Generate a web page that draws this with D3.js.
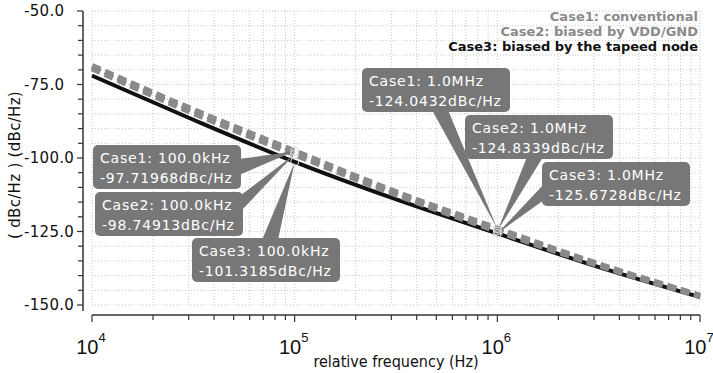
<!DOCTYPE html>
<html>
<head>
<meta charset="utf-8">
<script src="https://cdn.jsdelivr.net/npm/d3@7"></script>
<style>
  body { margin: 0; background: #fff; }
  svg { display: block; }
</style>
</head>
<body>
<div id="chart"></div>
<script>
// data
var freqs = [1e4, 3e4, 1e5, 3e5, 1e6, 3e6, 1e7];
var case1 = [-68.7, -83.0, -97.71968, -111.0, -124.0432, -135.6, -146.8];
var case2 = [-69.5, -84.0, -98.74913, -111.8, -124.8339, -136.0, -147.0];
var case3 = [-72.0, -86.3, -101.3185, -113.5, -125.6728, -136.6, -147.3];
var caseNames = ["Case1", "Case2", "Case3"];
var legendText = ["Case1: conventional", "Case2: biased by VDD/GND", "Case3: biased by the tapeed node"];
var markerFreqs = [1e5, 1e6];
var markerFreqText = ["100.0kHz", "1.0MHz"];
var yTicks = [-150, -125, -100, -75, -50];
var xTickExp = [4, 5, 6, 7];

var w = 713, h = 373;
var svg = d3.select("#chart").append("svg")
    .attr("width", w)
    .attr("height", h);

var x = d3.scaleLog().domain([1e4, 1e7]).range([92, 700]);
var y = d3.scaleLinear().domain([-150, -50]).range([305, 11]);

// dotted grid
var xGrid = x.ticks();
svg.append("g").selectAll("line")
    .data(xGrid)
    .enter()
    .append("line")
    .attr("x1", function(d) { return x(d); })
    .attr("x2", function(d) { return x(d); })
    .attr("y1", y(-50))
    .attr("y2", y(-150))
    .attr("stroke", "#c8c8c8")
    .attr("stroke-width", 1)
    .attr("stroke-dasharray", "1,2");

var yGrid = d3.range(-150, -49, 5);
svg.append("g").selectAll("line")
    .data(yGrid)
    .enter()
    .append("line")
    .attr("x1", x(1e4))
    .attr("x2", x(1e7))
    .attr("y1", function(d) { return y(d); })
    .attr("y2", function(d) { return y(d); })
    .attr("stroke", "#c8c8c8")
    .attr("stroke-width", 1)
    .attr("stroke-dasharray", "1,2");

// y axis
svg.append("line")
    .attr("x1", 83).attr("x2", 83)
    .attr("y1", y(-50)).attr("y2", 311)
    .attr("stroke", "#333").attr("stroke-width", 1.5);

svg.append("g").selectAll("line")
    .data(yGrid)
    .enter()
    .append("line")
    .attr("x1", function(d) { return yTicks.indexOf(d) >= 0 ? 77 : 78; })
    .attr("x2", 83)
    .attr("y1", function(d) { return y(d); })
    .attr("y2", function(d) { return y(d); })
    .attr("stroke", "#333").attr("stroke-width", 1.2);

svg.append("g").selectAll("text")
    .data(yTicks)
    .enter()
    .append("text")
    .attr("x", 24)
    .attr("y", function(d) { return y(d); })
    .attr("dy", "0.36em")
    .attr("text-anchor", "start")
    .attr("font-family", "DejaVu Sans, sans-serif")
    .attr("font-size", "15px")
    .attr("letter-spacing", "0.3px")
    .attr("fill", "#111")
    .text(function(d) { return d3.format(".1f")(d).replace("\u2212", "-"); });

svg.append("text")
    .attr("transform", "translate(20,165) rotate(-90)")
    .attr("text-anchor", "middle")
    .attr("font-family", "DejaVu Sans, sans-serif")
    .attr("font-size", "15px")
    .attr("letter-spacing", "0.3px")
    .attr("fill", "#111")
    .text("( dBc/Hz ) (dBc/Hz)");

// x axis
svg.append("line")
    .attr("x1", x(1e4)).attr("x2", x(1e7))
    .attr("y1", 315).attr("y2", 315)
    .attr("stroke", "#333").attr("stroke-width", 1.5);

svg.append("g").selectAll("line")
    .data(xGrid)
    .enter()
    .append("line")
    .attr("x1", function(d) { return x(d); })
    .attr("x2", function(d) { return x(d); })
    .attr("y1", 315)
    .attr("y2", function(d) { return Math.log10(d) % 1 === 0 ? 322 : 320; })
    .attr("stroke", "#333").attr("stroke-width", 1.2);

var xLab = svg.append("g").selectAll("text")
    .data(xTickExp)
    .enter()
    .append("text")
    .attr("x", function(d) { return x(Math.pow(10, d)) - 1; })
    .attr("y", 354)
    .attr("text-anchor", "middle")
    .attr("font-family", "Liberation Sans, sans-serif")
    .attr("font-size", "20px")
    .attr("fill", "#111");
xLab.append("tspan").text("10");
xLab.append("tspan")
    .attr("dy", -12)
    .attr("font-size", "13px")
    .text(function(d) { return d; });

svg.append("text")
    .attr("x", 396)
    .attr("y", 367)
    .attr("text-anchor", "middle")
    .attr("font-family", "DejaVu Sans Condensed, DejaVu Sans, sans-serif")
    .attr("font-size", "16px")
    .attr("fill", "#111")
    .text("relative frequency (Hz)");

// curves
var line = d3.line()
    .x(function(d, i) { return x(freqs[i]); })
    .y(function(d) { return y(d); })
    .curve(d3.curveMonotoneX);

svg.append("path")
    .attr("d", line(case3))
    .attr("fill", "none")
    .attr("stroke", "#111")
    .attr("stroke-width", 4);

[case2, case1].forEach(function(s) {
    svg.append("path")
        .attr("d", line(s))
        .attr("fill", "none")
        .attr("stroke", "#8a8a8a")
        .attr("stroke-width", 6)
        .attr("stroke-dasharray", "9,5");
});

// legend
svg.append("g").selectAll("text")
    .data(legendText)
    .enter()
    .append("text")
    .attr("x", 698)
    .attr("y", function(d, i) { return 21 + i * 15; })
    .attr("text-anchor", "end")
    .attr("font-family", "DejaVu Sans, sans-serif")
    .attr("font-weight", "bold")
    .attr("font-size", "13px")
    .attr("fill", function(d, i) { return i < 2 ? "#8a8a8a" : "#111"; })
    .text(function(d) { return d; });

// markers with callouts
var series = [case1, case2, case3];
// box layout: [marker index][case index] -> left, top, edge side, edge pos
var boxes = [
    [{l: 93, t: 145, side: "right", p: 167}, {l: 95, t: 192, side: "right", p: 203}, {l: 192, t: 238, side: "top", p: 270}],
    [{l: 362, t: 68, side: "bottom", p: 440}, {l: 465, t: 115, side: "bottom", p: 535}, {l: 542, t: 162, side: "left", p: 192}]
];
var bw = 148, bh = 44, half = 8;

markerFreqs.forEach(function(f, m) {
    var k = freqs.indexOf(f);
    series.forEach(function(s, c) {
        var b = boxes[m][c];
        var px = x(f), py = y(s[k]);
        var a, bpt;
        if (b.side === "right") { a = [b.l + bw - 2, b.p - half]; bpt = [b.l + bw - 2, b.p + half]; }
        if (b.side === "left") { a = [b.l + 2, b.p - half]; bpt = [b.l + 2, b.p + half]; }
        if (b.side === "top") { a = [b.p - half, b.t + 2]; bpt = [b.p + half, b.t + 2]; }
        if (b.side === "bottom") { a = [b.p - half, b.t + bh - 2]; bpt = [b.p + half, b.t + bh - 2]; }
        svg.append("path")
            .attr("d", "M" + a + "L" + [px, py] + "L" + bpt + "Z")
            .attr("fill", "#777");
        svg.append("rect")
            .attr("x", b.l).attr("y", b.t)
            .attr("width", bw).attr("height", bh)
            .attr("rx", 5)
            .attr("fill", "#777");
        var t = svg.append("text")
            .attr("font-family", "DejaVu Sans, sans-serif")
            .attr("font-size", "14px")
            .attr("letter-spacing", "0.8px")
            .attr("fill", "#fff");
        t.append("tspan").attr("x", b.l + 7).attr("y", b.t + 18)
            .text(caseNames[c] + ": " + markerFreqText[m]);
        t.append("tspan").attr("x", b.l + 7).attr("y", b.t + 38)
            .text(s[k] + "dBc/Hz");
    });
    series.forEach(function(s) {
        svg.append("circle")
            .attr("cx", x(f)).attr("cy", y(s[k]))
            .attr("r", 4)
            .attr("fill", "none")
            .attr("stroke", "#ddd")
            .attr("stroke-width", 1);
    });
});
</script>
</body>
</html>
